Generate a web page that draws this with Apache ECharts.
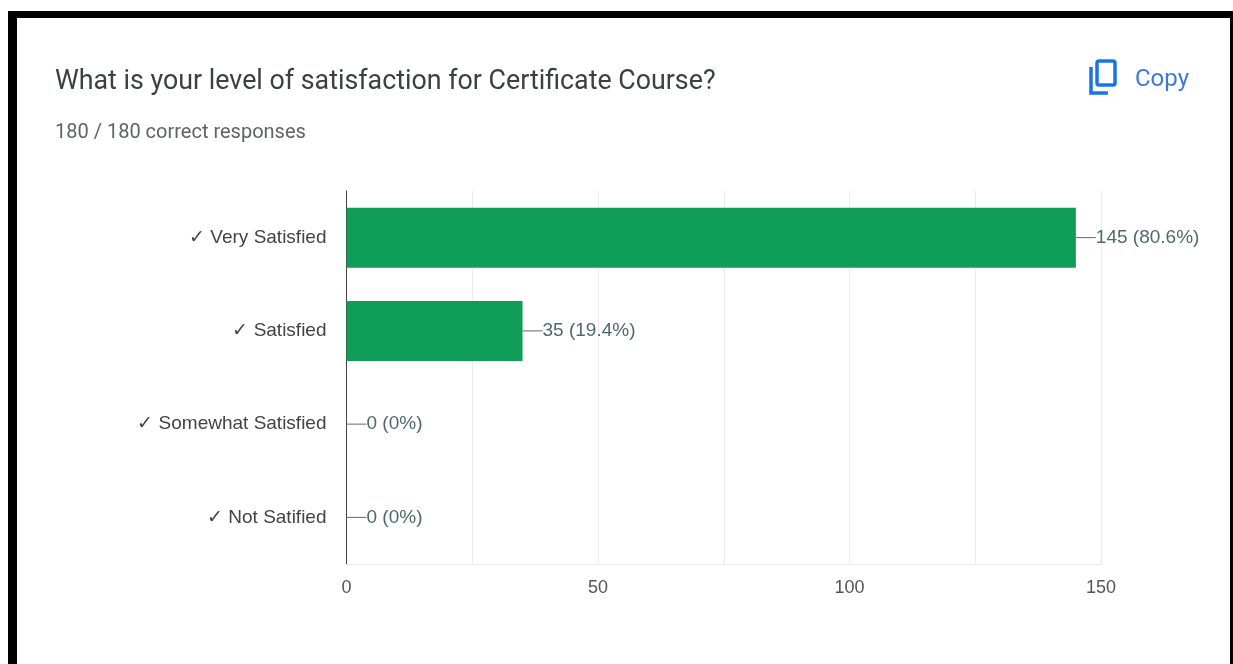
<!DOCTYPE html>
<html>
<head>
<meta charset="utf-8">
<style>html,body{margin:0;padding:0;background:#fff}#chart{width:1233px;height:664px}</style>
<script src="https://cdn.jsdelivr.net/npm/echarts@6/dist/echarts.min.js"></script>
</head>
<body>
<div id="chart"></div>
<script>
const categories = ['✓ Very Satisfied', '✓ Satisfied', '✓ Somewhat Satisfied', '✓ Not Satified'];
const counts = [145, 35, 0, 0];
const shares = ['80.6%', '19.4%', '0%', '0%'];
const questionText = 'What is your level of satisfaction for Certificate Course?';
const responsesText = '180 / 180 correct responses';
const copyText = 'Copy';

const chart = echarts.init(document.getElementById('chart'));
chart.setOption({
  animation: false,
  backgroundColor: '#ffffff',
  title: [
    { text: questionText, left: 50, top: 64,
      textStyle: { fontFamily: 'Roboto', fontSize: 26.8, fontWeight: 'normal', color: '#3c4043' } },
    { text: responsesText, left: 50, top: 118,
      textStyle: { fontFamily: 'Roboto', fontSize: 20, fontWeight: 'normal', color: '#5f6368' } },
    { text: copyText, left: 1130, top: 63,
      textStyle: { fontFamily: 'Roboto', fontSize: 24, fontWeight: 'normal', color: '#3f78dc' } }
  ],
  grid: { left: 346.5, top: 191, width: 754.5, height: 373 },
  xAxis: {
    type: 'value', min: 0, max: 150, interval: 25,
    axisLine: { show: true, lineStyle: { color: '#e8e8e8', width: 1 } },
    axisTick: { show: false },
    splitLine: { show: true, lineStyle: { color: '#ebebeb', width: 1 } },
    axisLabel: {
      margin: 15, fontFamily: 'Liberation Sans', fontSize: 18, color: '#555555',
      formatter: v => (v % 50 === 0 ? String(v) : '')
    }
  },
  yAxis: {
    type: 'category', inverse: true, data: categories,
    axisLine: { show: true, onZero: false, lineStyle: { color: '#444444', width: 1 } },
    axisTick: { show: false },
    axisLabel: { margin: 20, padding: [2, 0, 0, 0], fontFamily: 'Liberation Sans', fontSize: 19, color: '#444444' }
  },
  series: [{
    type: 'bar', barWidth: 60,
    data: counts,
    itemStyle: { color: '#0f9d58' },
    label: {
      show: true, position: 'right', distance: 20,
      fontFamily: 'Liberation Sans', fontSize: 19, color: '#4f6b66',
      formatter: p => p.value + ' (' + shares[p.dataIndex] + ')'
    },
    labelLine: { show: true, lineStyle: { color: '#666666', width: 1 } },
    labelLayout: { moveOverlap: false }
  }],
  graphic: [
    // card border along the top, left and right
    { type: 'rect', silent: true, shape: { x: 8, y: 11, width: 1225, height: 7 }, style: { fill: '#000' } },
    { type: 'rect', silent: true, shape: { x: 8, y: 11, width: 9, height: 653 }, style: { fill: '#000' } },
    { type: 'rect', silent: true, shape: { x: 1230, y: 11, width: 3, height: 653 }, style: { fill: '#000' } },
    // copy icon
    { type: 'rect', silent: true, shape: { x: 1097, y: 61, width: 18, height: 24, r: 2 },
      style: { fill: 'none', stroke: '#1a73e8', lineWidth: 3.5 } },
    { type: 'polyline', silent: true, shape: { points: [[1091, 67], [1091, 93], [1108, 93]] },
      style: { fill: 'none', stroke: '#1a73e8', lineWidth: 3.5 } }
  ]
});
</script>
</body>
</html>
